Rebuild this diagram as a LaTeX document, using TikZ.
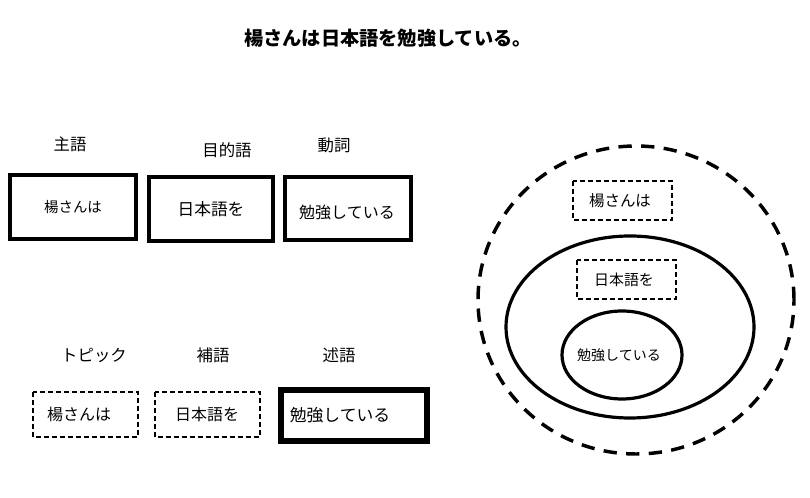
\documentclass[tikz,border=0pt]{standalone}
\usepackage{fontspec}
\setmainfont{Noto Sans CJK JP}
\usetikzlibrary{positioning}
\begin{document}
\begin{tikzpicture}[x=0.75pt,y=-0.75pt,
  dashbox/.style={draw=black,line width=1.1pt,dash pattern=on 3.5pt off 2.5pt,inner sep=0pt},
  lbl/.style={font=\fontsize{12.3}{14}\selectfont,inner sep=0pt},
  txt/.style={font=\fontsize{10.5}{12}\selectfont,inner sep=0pt},
  txtb/.style={font=\fontsize{12}{14}\selectfont,inner sep=0pt},
  ell/.style={draw=black,line width=2.4pt}]
\useasboundingbox (0,0) rectangle (810,498);
\fill[white] (0,0) rectangle (810,498);
% title
\node[font=\bfseries\fontsize{14.4}{16}\selectfont] (title) at (388,38) {楊さんは日本語を勉強している。};
% top row
\draw[line width=3.6pt] (10,175) rectangle (136,239);
\draw[line width=3.6pt] (149,177) rectangle (273,241);
\draw[line width=3.6pt] (285,177) rectangle (411,240);
\node[txt,font=\fontsize{10.8}{12}\selectfont] (t1) at (73,207) {楊さんは};
\node[txtb,font=\fontsize{12.5}{14}\selectfont] (t2) at (211,209) {日本語を};
\node[txtb] (t3) at (347,212) {勉強している};
\node[lbl] (l1) at (70,144) {主語};
\node[lbl] (l2) at (227,150) {目的語};
\node[lbl] (l3) at (334,145) {動詞};
% bottom row
\node[lbl] (l4) at (94,355) {トピック};
\node[lbl] (l5) at (213,355) {補語};
\node[lbl] (l6) at (339,355) {述語};
\draw[dashbox] (33,392) rectangle (138,437);
\draw[dashbox] (155,392) rectangle (260,437);
\draw[line width=3.8pt] (281,390) rectangle (427,441);
\node[txtb] (b1) at (79,414) {楊さんは};
\node[txtb] (b2) at (207,414) {日本語を};
\node[txtb,font=\fontsize{12.6}{14}\selectfont] (b3) at (340,415) {勉強している};
% right side
\draw[black,line width=2.6pt,dash pattern=on 10pt off 7pt] (636,300) ellipse [x radius=158*0.75pt, y radius=154*0.75pt];
\draw[ell] (630,327) ellipse [x radius=124*0.75pt, y radius=91*0.75pt];
\draw[ell] (622,355) ellipse [x radius=60*0.75pt, y radius=44*0.75pt];
\draw[dashbox] (573,181) rectangle (672,220);
\draw[dashbox] (577,260) rectangle (676,299);
\node[txt,font=\fontsize{11.6}{13}\selectfont] (c1) at (620,201) {楊さんは};
\node[txt,font=\fontsize{11.2}{13}\selectfont] (c2) at (624,280) {日本語を};
\node[txt] (c3) at (619,355) {勉強している};
\end{tikzpicture}
\end{document}
